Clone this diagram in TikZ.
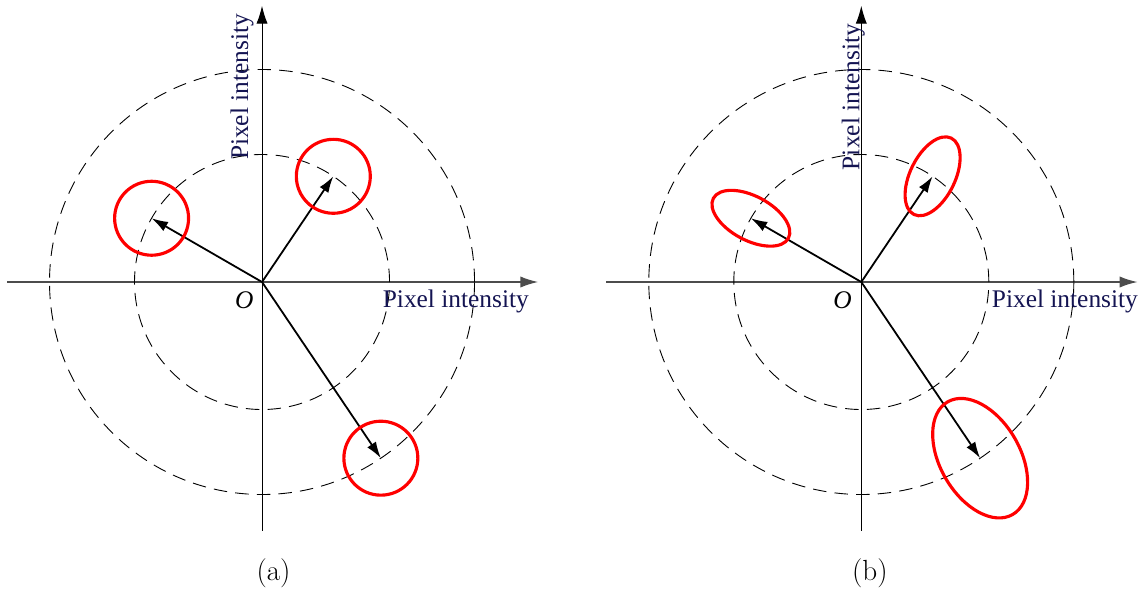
\documentclass[tikz,border=0pt]{standalone}
\usepackage{fontspec}
\newfontfamily\timesfont{Liberation Serif}
\usetikzlibrary{arrows.meta}
\definecolor{labelblue}{RGB}{20,20,82}

\begin{document}
\begin{tikzpicture}[
    axis/.style={line width=0.7pt, -{Latex[length=12pt,width=7.5pt]}},
    ring/.style={line width=0.6pt, dash pattern=on 9pt off 5.5pt},
    vec/.style={line width=1.2pt, -{Latex[length=11pt,width=7pt]}},
    blob/.style={red, line width=2.1pt},
    axlabel/.style={text=labelblue, font=\timesfont\fontsize{17}{20}\selectfont},
    caption/.style={font=\fontsize{19.5}{23}\selectfont}
]
    \useasboundingbox (-6.165,-7.318) rectangle (20.61,6.635);

    % Panel (a): round neighbourhoods.
    \coordinate (oa) at (0,0);
        \draw[axis, gray!60!black, line width=1pt] (-6,0) -- (6.5,0);
        \draw[axis] (0,-5.85) -- (0,6.5);
        \draw[ring] (oa) circle (3);
        \draw[ring] (oa) circle (5);
    % Below are the vectors and their circles.
        \coordinate (a1) at (150:3);
        \coordinate (a2) at (56:3);
        \coordinate (a3) at (-56:5);
        \draw[vec] (oa) -- (a1);
        \draw[vec] (oa) -- (a2);
        \draw[vec] (oa) -- (a3);
        \draw[blob] (a1) circle (0.87);
        \draw[blob] (a2) circle (0.87);
        \draw[blob] (a3) circle (0.87);
    % Labels.
        \node[axlabel, rotate=90] (ya) at (-0.47,4.59) {Pixel intensity};
        \node[axlabel] (xa) at (4.56,-0.45) {Pixel intensity};
        \node[axlabel, text=black] (Oa) at (-0.42,-0.42) {\textit{O}};
        \node[caption] (capa) at (0.27,-6.85) {(a)};

    % Panel (b): stretched neighbourhoods.
    \begin{scope}[xshift=14.1cm]
    \coordinate (ob) at (0,0);
        \draw[axis, gray!60!black, line width=1pt] (-6,0) -- (6.5,0);
        \draw[axis] (0,-5.85) -- (0,6.5);
        \draw[ring] (ob) circle (3);
        \draw[ring] (ob) circle (5);
    % Below are the vectors and their ellipses.
        \coordinate (b1) at (150:3);
        \coordinate (b2) at (56:3);
        \coordinate (b3) at (-56:5);
        \draw[vec] (ob) -- (b1);
        \draw[vec] (ob) -- (b2);
        \draw[vec] (ob) -- (b3);
        \draw[blob, rotate around={152:(b1)}] (b1) ellipse (1.0 and 0.52);
        \draw[blob, rotate around={64:(b2)}] (b2) ellipse (1.0 and 0.53);
        \draw[blob, rotate around={-60:(b3)}] (b3) ellipse (1.53 and 0.94);
    % Labels.
        \node[axlabel, rotate=90] (yb) at (-0.19,4.35) {Pixel intensity};
        \node[axlabel] (xb) at (4.79,-0.45) {Pixel intensity};
        \node[axlabel, text=black] (Ob) at (-0.44,-0.42) {\textit{O}};
        \node[caption] (capb) at (0.2,-6.85) {(b)};
    \end{scope}
\end{tikzpicture}
\end{document}
